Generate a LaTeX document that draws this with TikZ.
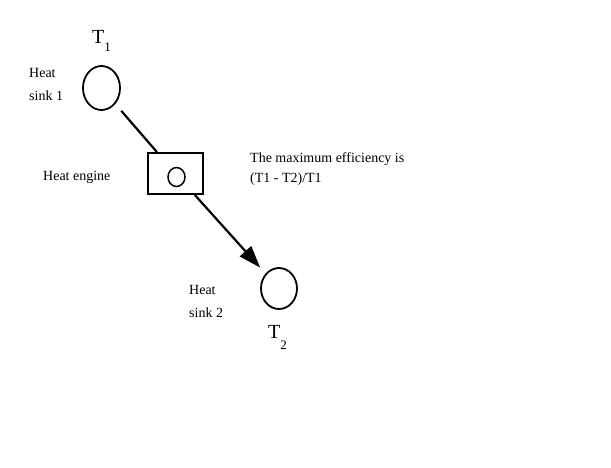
\documentclass[tikz,border=0pt]{standalone}
\usepackage{fontspec}
\setmainfont{Liberation Serif}
\usetikzlibrary{shapes.geometric,arrows.meta}

\begin{document}
\begin{tikzpicture}[x=1pt,y=-1pt,
  sink/.style={draw,ellipse,line width=1.8pt,inner sep=0pt},
  caption/.style={anchor=base west,inner sep=0pt,align=left,font=\fontsize{14}{23}\selectfont},
  temp/.style={anchor=base west,inner sep=0pt,font=\fontsize{20}{20}\selectfont},
  link/.style={line width=2.2pt}]
\useasboundingbox (0,0) rectangle (611,467);
\fill[white] (0,0) rectangle (611,467);
% reservoirs
\node[sink,minimum width=37pt,minimum height=44pt] (hot) at (101.5,88) {};
\node[sink,minimum width=36pt,minimum height=41pt] (cold) at (279,288.5) {};
% engine
\node[draw,line width=1.8pt,minimum width=55pt,minimum height=41pt,inner sep=0pt] (engine) at (175.5,173.5) {};
\node[sink,line width=1.5pt,minimum width=17pt,minimum height=19pt] (core) at (176.5,177) {};
% flow of heat
\draw[link,shorten <=9pt] (hot) -- (engine);
\draw[link,-{Triangle[length=22pt,width=15pt]},shorten >=8pt] (engine) -- (cold);
% texts
\node[temp] (thot) at (92,43) {T\raisebox{-8pt}{\fontsize{13}{13}\selectfont 1}};
\node[temp] (tcold) at (268,338.5) {T\raisebox{-11pt}{\fontsize{13}{13}\selectfont 2}};
\node[caption] (hotname) at (29,100) {Heat\\sink 1};
\node[caption] (enginename) at (43,180) {Heat engine};
\node[caption] (coldname) at (189,317) {Heat\\sink 2};
\node[caption,font=\fontsize{14}{20}\selectfont] (note) at (250,182) {The maximum efficiency is\\(T1 - T2)/T1};
\end{tikzpicture}
\end{document}
